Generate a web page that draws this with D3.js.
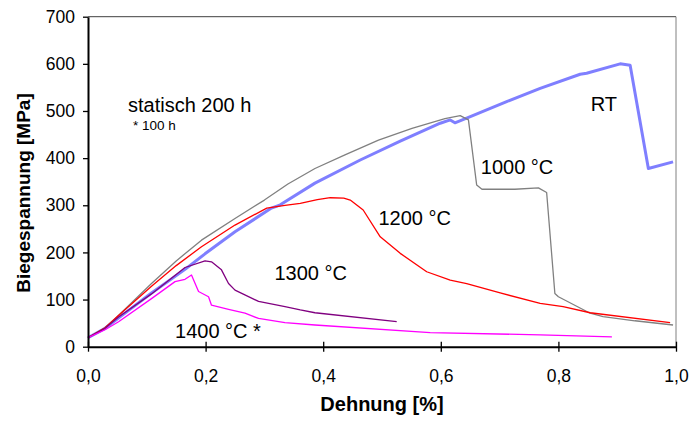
<!DOCTYPE html>
<html>
<head>
<meta charset="utf-8">
<script src="https://cdn.jsdelivr.net/npm/d3@7"></script>
<style>
  html, body { margin: 0; padding: 0; background: #fff; }
  svg { display: block; font-family: "Liberation Sans", Arial, sans-serif; }
</style>
</head>
<body>
<svg id="chart" width="690" height="421"></svg>
<script>
// Biegespannung über Dehnung, statisch 200 h (1400 °C: 100 h)
const xTicks = [0, 0.2, 0.4, 0.6, 0.8, 1.0];
const yTicks = [0, 100, 200, 300, 400, 500, 600, 700];

const rtX = [0, 0.029, 0.05, 0.108, 0.165, 0.199, 0.25, 0.312, 0.327, 0.386, 0.463, 0.531, 0.599, 0.616, 0.624, 0.644, 0.712, 0.769, 0.837, 0.848, 0.905, 0.922, 0.953, 0.995];
const rtY = [19, 39, 59, 114, 164, 197, 244, 294, 301, 347, 396, 436, 474, 481, 475, 485, 520, 548, 578, 580, 600, 597, 378, 392];

const t1000X = [0, 0.029, 0.05, 0.108, 0.15, 0.193, 0.25, 0.300, 0.34, 0.386, 0.437, 0.494, 0.551, 0.607, 0.633, 0.647, 0.661, 0.670, 0.726, 0.766, 0.780, 0.794, 0.800, 0.854, 0.876, 0.93, 0.995];
const t1000Y = [19, 40, 64, 134, 182, 226, 272, 311, 345, 378, 407, 438, 463, 484, 490, 481, 343, 334, 334, 337, 327, 113, 106, 71, 64, 55, 46];

const t1200X = [0, 0.029, 0.05, 0.108, 0.15, 0.193, 0.25, 0.304, 0.335, 0.361, 0.39, 0.412, 0.435, 0.446, 0.468, 0.497, 0.531, 0.576, 0.616, 0.644, 0.701, 0.769, 0.808, 0.854, 0.990];
const t1200Y = [19, 40, 64, 128, 172, 212, 258, 294, 300, 304, 312, 316, 315, 311, 290, 233, 198, 159, 141, 134, 114, 92, 85, 72, 51];

const t1300X = [0, 0.029, 0.052, 0.108, 0.165, 0.199, 0.21, 0.227, 0.239, 0.25, 0.29, 0.335, 0.361, 0.386, 0.525];
const t1300Y = [19, 39, 63, 112, 168, 182, 180, 163, 134, 120, 96, 85, 78, 72, 53];

const t1400X = [0, 0.029, 0.052, 0.108, 0.148, 0.165, 0.176, 0.188, 0.205, 0.21, 0.239, 0.267, 0.29, 0.335, 0.386, 0.582, 0.769, 0.891];
const t1400Y = [19, 36, 53, 102, 138, 143, 152, 117, 106, 88, 79, 71, 60, 51, 46, 30, 25, 21];

const seriesNames = ["RT", "1000 °C", "1200 °C", "1300 °C", "1400 °C *"];
const seriesX = [rtX, t1000X, t1200X, t1300X, t1400X];
const seriesY = [rtY, t1000Y, t1200Y, t1300Y, t1400Y];
const seriesColor = ["#7f7fff", "#808080", "#ff0000", "#800080", "#ff00ff"];
const seriesWidth = [3, 1.3, 1.3, 1.3, 1.3];

// label anchor points in data units
const labelX = [0.855, 0.668, 0.494, 0.317, 0.148];
const labelY = [500, 366, 259, 142, 18];

const svg = d3.select("#chart");
const plotLeft = 88, plotRight = 676, plotTop = 16.7, plotBottom = 346.7;

const x = d3.scaleLinear().domain([0, 1]).range([plotLeft, plotRight]);
const y = d3.scaleLinear().domain([0, 700]).range([plotBottom, plotTop]);

const fmt = d3.formatLocale({ decimal: ",", thousands: ".", grouping: [3], currency: ["", " €"] }).format(".1f");

// frame (top, right)
svg.append("line").attr("x1", plotLeft).attr("x2", plotRight).attr("y1", plotTop).attr("y2", plotTop)
  .attr("stroke", "#404040").attr("stroke-width", 1);
svg.append("line").attr("x1", plotRight).attr("x2", plotRight).attr("y1", plotTop).attr("y2", plotBottom)
  .attr("stroke", "#808080").attr("stroke-width", 1);

// series
const line = d3.line().x(d => x(d[0])).y(d => y(d[1]));
seriesNames.forEach((name, i) => {
  const pts = seriesX[i].map((v, j) => [v, seriesY[i][j]]);
  svg.append("path").datum(pts)
    .attr("d", line)
    .attr("fill", "none")
    .attr("stroke", seriesColor[i])
    .attr("stroke-width", seriesWidth[i])
    .attr("stroke-linejoin", "round");
});

// y axis
const yAxis = svg.append("g").attr("transform", `translate(${plotLeft},0)`)
  .call(d3.axisLeft(y).tickValues(yTicks).tickSize(5).tickSizeOuter(0).tickPadding(8));
yAxis.select(".domain").attr("stroke", "#000").attr("stroke-width", 2);
yAxis.selectAll(".tick line").attr("stroke", "#000").attr("stroke-width", 1.3);
yAxis.selectAll(".tick text").attr("font-size", 17.5).attr("fill", "#000")
  .attr("font-family", "Liberation Sans, Arial, sans-serif");

// x axis (ticks cross the axis line)
const xAxis = svg.append("g").attr("transform", `translate(0,${plotBottom})`)
  .call(d3.axisBottom(x).tickValues(xTicks).tickFormat(fmt).tickSize(5).tickSizeOuter(0).tickPadding(18));
xAxis.select(".domain").attr("stroke", "#000").attr("stroke-width", 2);
xAxis.selectAll(".tick line").attr("stroke", "#000").attr("stroke-width", 1.3).attr("y1", -5).attr("y2", 5);
xAxis.selectAll(".tick text").attr("font-size", 17.5).attr("fill", "#000")
  .attr("font-family", "Liberation Sans, Arial, sans-serif");

// axis titles
svg.append("text")
  .attr("transform", `translate(30,193) rotate(-90)`)
  .attr("text-anchor", "middle")
  .attr("font-size", 19).attr("font-weight", "bold")
  .text("Biegespannung [MPa]");
svg.append("text")
  .attr("x", 382).attr("y", 411)
  .attr("text-anchor", "middle")
  .attr("font-size", 20).attr("font-weight", "bold")
  .text("Dehnung [%]");

// annotations
svg.append("text").attr("x", 128).attr("y", 111.5).attr("font-size", 20).text("statisch 200 h");
svg.append("text").attr("x", 133).attr("y", 129.5).attr("font-size", 13.5).text("* 100 h");

seriesNames.forEach((name, i) => {
  svg.append("text")
    .attr("x", x(labelX[i])).attr("y", y(labelY[i]))
    .attr("font-size", 20)
    .text(name);
});
</script>
</body>
</html>
